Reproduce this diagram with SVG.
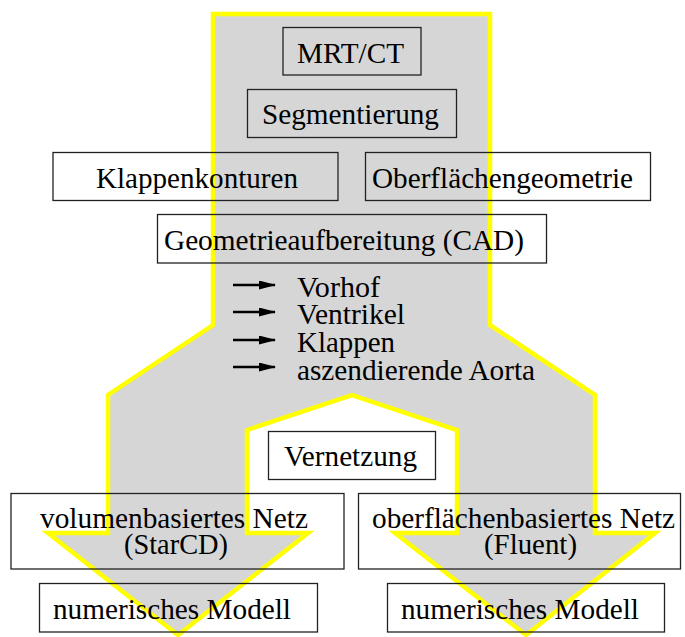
<svg xmlns="http://www.w3.org/2000/svg" width="685" height="637" viewBox="0 0 685 637">
  <style>
    .box { fill: none; stroke: #222; stroke-width: 1.3; }
    .t { font-family: "Liberation Serif", "Times New Roman", serif; font-size: 30px; fill: #000; }
    .flow { fill: #d6d6d6; stroke: #ffff00; stroke-width: 4.5; stroke-linejoin: miter; }
    .ar { stroke: #000; stroke-width: 2.6; fill: none; }
  </style>
  <defs>
    <marker id="ah" markerWidth="17" markerHeight="9" refX="16" refY="4.5" orient="auto" markerUnits="userSpaceOnUse">
      <path d="M0,0 L17,4.5 L0,9 Z" fill="#000"/>
    </marker>
  </defs>
  <rect width="685" height="637" fill="#fff"/>

  <g id="flow-shape">
    <path class="flow" d="M213,14 L490,14 L490,325 L595,395 L595,533 L655,533 L526,635 L395,533 L457,533 L457,430 L352,395 L247,430 L247,533 L308,533 L178,635 L48,533 L108,533 L108,395 L213,325 Z"/>
  </g>

  <g id="connectors">
    <line class="ar" x1="233" y1="285" x2="275" y2="285" marker-end="url(#ah)"/>
    <line class="ar" x1="233" y1="312" x2="275" y2="312" marker-end="url(#ah)"/>
    <line class="ar" x1="233" y1="340" x2="275" y2="340" marker-end="url(#ah)"/>
    <line class="ar" x1="233" y1="367" x2="275" y2="367" marker-end="url(#ah)"/>
  </g>

  <g id="mrtct">
    <rect class="box" x="283" y="27.5" width="138" height="47.5"/>
    <text class="t" x="297" y="63" textLength="107" lengthAdjust="spacingAndGlyphs">MRT/CT</text>
  </g>
  <g id="segmentierung">
    <rect class="box" x="247.5" y="89.5" width="209" height="48"/>
    <text class="t" x="262" y="124" textLength="177" lengthAdjust="spacingAndGlyphs">Segmentierung</text>
  </g>
  <g id="klappenkonturen">
    <rect class="box" x="53" y="152.5" width="285" height="48"/>
    <text class="t" x="96" y="188" textLength="202" lengthAdjust="spacingAndGlyphs">Klappenkonturen</text>
  </g>
  <g id="oberflaechengeometrie">
    <rect class="box" x="365.5" y="152.5" width="285" height="48"/>
    <text class="t" x="372" y="188" textLength="261" lengthAdjust="spacingAndGlyphs">Oberflächengeometrie</text>
  </g>
  <g id="geometrieaufbereitung">
    <rect class="box" x="157.5" y="214.5" width="389" height="48.5"/>
    <text class="t" x="164" y="250" textLength="360" lengthAdjust="spacingAndGlyphs">Geometrieaufbereitung (CAD)</text>
  </g>
  <g id="teile">
    <text class="t" x="297" y="297" textLength="83" lengthAdjust="spacingAndGlyphs">Vorhof</text>
    <text class="t" x="297" y="324" textLength="108" lengthAdjust="spacingAndGlyphs">Ventrikel</text>
    <text class="t" x="297" y="352" textLength="98" lengthAdjust="spacingAndGlyphs">Klappen</text>
    <text class="t" x="297" y="380" textLength="238" lengthAdjust="spacingAndGlyphs">aszendierende Aorta</text>
  </g>
  <g id="vernetzung">
    <rect class="box" x="268.5" y="431.5" width="167" height="48"/>
    <text class="t" x="284" y="466" textLength="133" lengthAdjust="spacingAndGlyphs">Vernetzung</text>
  </g>
  <g id="volumennetz">
    <rect class="box" x="11" y="493.5" width="333" height="75.5"/>
    <text class="t" x="40" y="528" textLength="268" lengthAdjust="spacingAndGlyphs">volumenbasiertes Netz</text>
    <text class="t" x="124" y="554" textLength="104" lengthAdjust="spacingAndGlyphs">(StarCD)</text>
  </g>
  <g id="oberflaechennetz">
    <rect class="box" x="358.5" y="493.5" width="322" height="75.5"/>
    <text class="t" x="372" y="528" textLength="303" lengthAdjust="spacingAndGlyphs">oberflächenbasiertes Netz</text>
    <text class="t" x="484" y="554" textLength="93" lengthAdjust="spacingAndGlyphs">(Fluent)</text>
  </g>
  <g id="modell-links">
    <rect class="box" x="39.5" y="583.5" width="278" height="48.5"/>
    <text class="t" x="53" y="619" textLength="238" lengthAdjust="spacingAndGlyphs">numerisches Modell</text>
  </g>
  <g id="modell-rechts">
    <rect class="box" x="387.5" y="583.5" width="277" height="48.5"/>
    <text class="t" x="401" y="619" textLength="238" lengthAdjust="spacingAndGlyphs">numerisches Modell</text>
  </g>
</svg>
